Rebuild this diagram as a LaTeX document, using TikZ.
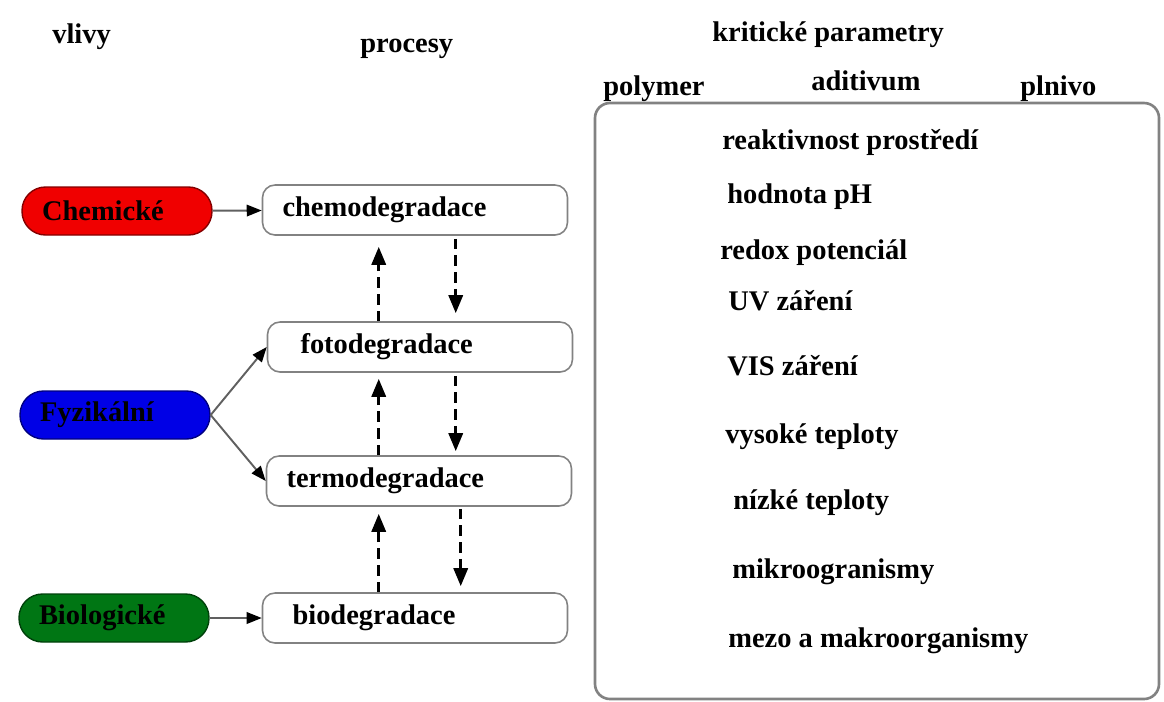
\documentclass[tikz,border=0pt]{standalone}
\usepackage{fontspec}
\setmainfont{Liberation Serif}
\usetikzlibrary{arrows.meta, positioning, calc}
\definecolor{cRed}{RGB}{240,0,0}
\definecolor{cBlue}{RGB}{0,0,230}
\definecolor{cGreen}{RGB}{0,118,20}
\definecolor{cFrame}{RGB}{130,130,130}
\tikzset{
	cause/.style    ={rectangle, rounded corners=0.47cm, minimum height=0.96cm, text width=3.0cm, inner xsep=0.4cm, align=left, draw=#1!55!black, fill=#1, line width=0.8pt},
	procbox/.style  ={rectangle, rounded corners=0.25cm, minimum height=1.0cm, text width=5.3cm, inner xsep=0.4cm, align=left, draw=cFrame, fill=white, line width=0.9pt},
	lbl/.style      ={inner sep=0pt, anchor=base west},
	feedarrow/.style={-{Triangle[length=3mm, width=2.3mm, color=black]}, draw=gray!75!black, line width=1.1pt},
	cyclearrow/.style={-{Triangle[length=3.6mm, width=2.8mm]}, line width=1.8pt, dash pattern=on 6pt off 3.5pt},
}
\begin{document}
\begin{tikzpicture}[x=0.02cm, y=-0.02cm, font=\fontsize{16.2}{19}\selectfont\bfseries]
	\useasboundingbox (0,0) rectangle (1164,701);
	% headings
	\node[lbl] (hVlivy) at (52,43) {vlivy};
	\node[lbl] (hProc) at (360,52) {procesy};
	\node[lbl] (hKrit) at (712,41) {kritické parametry};
	% parameter frame
	\draw[cFrame, line width=1.5pt, rounded corners=0.3cm] (595,103) rectangle (1159,699);
	\node[lbl] (hPoly) at (603,95) {polymer};
	\node[lbl] (hAdit) at (811,90) {aditivum};
	\node[lbl] (hPlni) at (1020,95) {plnivo};
	% influences
	\node[cause=cRed] (chem) at (117,211) {Chemické};
	\node[cause=cBlue] (fyz) at (115,415) {Fyzikální};
	\node[cause=cGreen] (bio) at (114,618) {Biologické};
	% processes
	\node[procbox] (chemo) at (415,210) {chemodegradace};
	\node[procbox] (foto) at (420,347) {\hspace*{0.26cm}fotodegradace};
	\node[procbox] (termo) at (419,481) {termodegradace};
	\node[procbox] (biodeg) at (415,618) {\hspace*{0.2cm}biodegradace};
	\draw[feedarrow] (chem) -- (chemo);
	\draw[feedarrow] (fyz.east) -- (foto.west);
	\draw[feedarrow] (fyz.east) -- (termo.west);
	\draw[feedarrow] (bio) -- (biodeg);
	% up and down between processes
	\coordinate (up1) at ($(foto.north west)+(112,0)$);
	\coordinate (dn1) at ($(chemo.south west)+(194,0)$);
	\coordinate (up2) at ($(termo.north west)+(113,0)$);
	\coordinate (dn2) at ($(foto.south west)+(189,0)$);
	\coordinate (up3) at ($(biodeg.north west)+(117,0)$);
	\coordinate (dn3) at ($(termo.south west)+(195,0)$);
	\draw[cyclearrow, shorten >=0.22cm] (up1) -- (up1 |- chemo.south);
	\draw[cyclearrow, shorten <=0.06cm, shorten >=0.16cm] (dn1) -- (dn1 |- foto.north);
	\draw[cyclearrow, shorten >=0.12cm] (up2) -- (up2 |- foto.south);
	\draw[cyclearrow, shorten <=0.06cm, shorten >=0.08cm] (dn2) -- (dn2 |- termo.north);
	\draw[cyclearrow, shorten >=0.14cm] (up3) -- (up3 |- termo.south);
	\draw[cyclearrow, shorten <=0.04cm, shorten >=0.12cm] (dn3) -- (dn3 |- biodeg.north);
	% critical parameters
	\node[lbl] (pReakt) at (722,149) {reaktivnost prostředí};
	\node[lbl] (pPh) at (727,203) {hodnota pH};
	\node[lbl] (pRedox) at (720,259) {redox potenciál};
	\node[lbl] (pUv) at (728,310) {UV záření};
	\node[lbl] (pVis) at (727,375) {VIS záření};
	\node[lbl] (pVys) at (725,443) {vysoké teploty};
	\node[lbl] (pNiz) at (733,509) {nízké teploty};
	\node[lbl] (pMikro) at (732,578) {mikroogranismy};
	\node[lbl] (pMezo) at (728,647) {mezo a makroorganismy};
\end{tikzpicture}
\end{document}
